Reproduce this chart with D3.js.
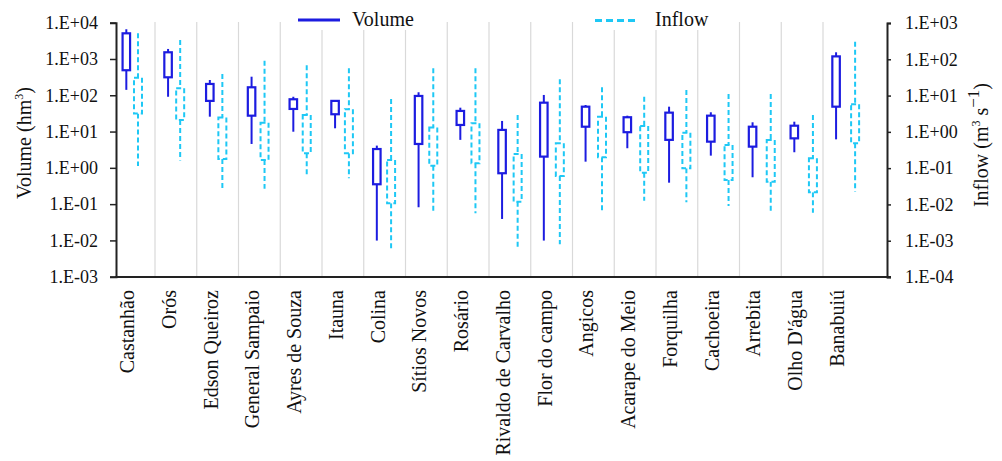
<!DOCTYPE html>
<html>
<head>
<meta charset="utf-8">
<script src="https://cdn.jsdelivr.net/npm/d3@7"></script>
<style>
  html, body { margin: 0; padding: 0; background: #fff; }
  svg { display: block; }
</style>
</head>
<body>
<svg id="chart" width="1002" height="461" font-family="Liberation Serif"></svg>
<script>
const categories = ["Castanhão","Orós","Edson Queiroz","General Sampaio","Ayres de Souza","Itauna","Colina","Sítios Novos","Rosário","Rivaldo de Carvalho","Flor do campo","Angicos","Acarape do Meio","Forquilha","Cachoeira","Arrebita","Olho D'água","Banabuiú"];

// Volume (hm³)
const volMax = [6600,1890,264,325,91,72,4.1,121,45.5,19.6,102,54,27.4,48.5,34,18,18.7,1530];
const volQ3  = [5100,1530,205,166,77.6,70,3.3,95.7,37,11.1,62.5,48.5,24.8,33.2,27.4,13.6,14.5,1180];
const volQ1  = [490,313,70,27.4,42,30,0.353,4.55,15.2,0.71,2.04,13.6,9.6,5.9,5.27,3.84,6.5,48.5];
const volMin = [141,91,25.7,4.55,9.9,12.3,0.0099,0.082,5.9,0.039,0.0099,1.48,3.47,0.39,2.17,0.55,2.69,6.1];

// Inflow (m³ s⁻¹)
const inMax = [520,340,39.4,91,68,56.5,8.05,56.5,56.5,2.92,28.1,16.9,9.3,14.3,11.1,11.1,2.92,305];
const inQ3  = [31,15.9,2.5,1.79,2.92,4.2,0.168,1.31,1.73,0.246,0.485,2.62,1.45,0.95,0.436,0.6,0.187,5.75];
const inQ1  = [3.2,2.13,0.18,0.168,0.257,0.257,0.0108,0.117,0.136,0.0119,0.061,0.2,0.075,0.099,0.047,0.0425,0.0217,0.485];
const inMin = [0.115,0.162,0.024,0.027,0.065,0.053,0.00056,0.0057,0.0057,0.00066,0.0008,0.0066,0.0127,0.0115,0.0091,0.0055,0.0059,0.0225];

const leftTicks = [1e-3,1e-2,1e-1,1e0,1e1,1e2,1e3,1e4];
const rightTicks = [1e-4,1e-3,1e-2,1e-1,1e0,1e1,1e2,1e3];

const VOL_COLOR = "#1c1ce0";
const IN_COLOR = "#1ec8f5";
const FONT = "Liberation Serif";

const svg = d3.select("#chart");

const yL = d3.scaleLog().domain([1e-3, 1e4]).range([276.7, 22.7]);
const yR = d3.scaleLog().domain([1e-4, 1e3]).range([277, 23]);
const xCat = d3.scaleBand().domain(categories).range([113.25, 864.75]);
const xIn = d3.scaleBand().domain(categories).range([116.9, 876.2]);
const bw = xCat.bandwidth();

function fmtE(v) {
  const e = Math.round(Math.log10(v));
  return "1.E" + (e >= 0 ? "+" : "-") + String(Math.abs(e)).padStart(2, "0");
}

// grid lines between categories
svg.append("g").selectAll("line")
  .data(categories.slice(1))
  .join("line")
  .attr("x1", d => xCat(d)).attr("x2", d => xCat(d))
  .attr("y1", 22).attr("y2", 277)
  .attr("stroke", "#d9d9d9").attr("stroke-width", 1.2);

// left axis
const axL = svg.append("g").attr("transform", "translate(116,0)")
  .call(d3.axisLeft(yL).tickValues(leftTicks).tickFormat(fmtE).tickSize(6).tickPadding(12));
axL.attr("font-family", FONT);
axL.select(".domain").attr("stroke", "#222").attr("stroke-width", 2);
axL.selectAll(".tick line").attr("stroke", "#222").attr("stroke-width", 1.5);
axL.selectAll(".tick text").attr("font-size", 18).attr("fill", "#111").attr("font-family", FONT);

// right axis
const axR = svg.append("g").attr("transform", "translate(887,0)")
  .call(d3.axisRight(yR).tickValues(rightTicks).tickFormat(fmtE).tickSize(4).tickPadding(14));
axR.attr("font-family", FONT);
axR.select(".domain").attr("stroke", "#222").attr("stroke-width", 2);
axR.selectAll(".tick line").attr("stroke", "#222").attr("stroke-width", 1.5);
axR.selectAll(".tick text").attr("font-size", 18).attr("fill", "#111").attr("font-family", FONT);

// bottom axis line
svg.append("line").attr("x1", 115).attr("x2", 891).attr("y1", 277).attr("y2", 277)
  .attr("stroke", "#222").attr("stroke-width", 2);

// category labels
svg.append("g").selectAll("text")
  .data(categories)
  .join("text")
  .attr("transform", d => `translate(${xCat(d) + bw / 2},290) rotate(-90)`)
  .attr("text-anchor", "end")
  .attr("font-family", FONT)
  .attr("font-size", 20)
  .attr("fill", "#111")
  .text(d => d);

// volume boxes
const boxW = 7.5;
const vol = svg.append("g");
categories.forEach((c, i) => {
  const cx = xCat(c) + bw / 2 - 7.8;
  vol.append("line").attr("x1", cx).attr("x2", cx)
    .attr("y1", yL(volMax[i])).attr("y2", yL(volQ3[i]))
    .attr("stroke", VOL_COLOR).attr("stroke-width", 2);
  vol.append("line").attr("x1", cx).attr("x2", cx)
    .attr("y1", yL(volQ1[i])).attr("y2", yL(volMin[i]))
    .attr("stroke", VOL_COLOR).attr("stroke-width", 2);
  vol.append("rect").attr("x", cx - boxW / 2).attr("width", boxW)
    .attr("y", yL(volQ3[i])).attr("height", yL(volQ1[i]) - yL(volQ3[i]))
    .attr("fill", "#fff").attr("stroke", VOL_COLOR).attr("stroke-width", 2.2);
});

// inflow boxes
const inBoxW = 8;
const inf = svg.append("g");
categories.forEach((c, i) => {
  const cx = xIn(c) + xIn.bandwidth() / 2;
  inf.append("line").attr("x1", cx).attr("x2", cx)
    .attr("y1", yR(inMax[i])).attr("y2", yR(inQ3[i]))
    .attr("stroke", IN_COLOR).attr("stroke-width", 2).attr("stroke-dasharray", "5,3");
  inf.append("line").attr("x1", cx).attr("x2", cx)
    .attr("y1", yR(inQ1[i])).attr("y2", yR(inMin[i]))
    .attr("stroke", IN_COLOR).attr("stroke-width", 2).attr("stroke-dasharray", "5,3");
  inf.append("rect").attr("x", cx - inBoxW / 2).attr("width", inBoxW)
    .attr("y", yR(inQ3[i])).attr("height", yR(inQ1[i]) - yR(inQ3[i]))
    .attr("fill", "#fff").attr("stroke", IN_COLOR).attr("stroke-width", 2).attr("stroke-dasharray", "5,3");
});

// legend
const leg = svg.append("g").attr("font-family", FONT);
leg.append("rect").attr("x", 290).attr("y", 2).attr("width", 140).attr("height", 28).attr("fill", "#fff");
leg.append("rect").attr("x", 585).attr("y", 2).attr("width", 130).attr("height", 28).attr("fill", "#fff");
leg.append("line").attr("x1", 298).attr("x2", 340).attr("y1", 20).attr("y2", 20)
  .attr("stroke", VOL_COLOR).attr("stroke-width", 3);
leg.append("text").attr("x", 352).attr("y", 26).attr("font-family", FONT).attr("font-size", 20).attr("fill", "#111").text("Volume");
leg.append("line").attr("x1", 595).attr("x2", 637).attr("y1", 20.5).attr("y2", 20.5)
  .attr("stroke", IN_COLOR).attr("stroke-width", 3).attr("stroke-dasharray", "7,4");
leg.append("text").attr("x", 655).attr("y", 26).attr("font-family", FONT).attr("font-size", 20).attr("fill", "#111").text("Inflow");

// axis titles
const tl = svg.append("text")
  .attr("transform", "translate(31,143) rotate(-90)")
  .attr("text-anchor", "middle").attr("font-family", FONT).attr("font-size", 20).attr("fill", "#111");
tl.append("tspan").text("Volume (hm");
tl.append("tspan").attr("font-size", 12).attr("dy", -8).text("3");
tl.append("tspan").attr("dy", 8).text(")");

const tr = svg.append("text")
  .attr("transform", "translate(988,145) rotate(-90)")
  .attr("text-anchor", "middle").attr("font-family", FONT).attr("font-size", 20).attr("fill", "#111");
tr.append("tspan").text("Inflow (m");
tr.append("tspan").attr("font-size", 12).attr("dy", -8).text("3");
tr.append("tspan").attr("dy", 8).text(" s");
tr.append("tspan").attr("font-size", 17).attr("dy", -9).text("−1");
tr.append("tspan").attr("dy", 9).text(")");
</script>
</body>
</html>
